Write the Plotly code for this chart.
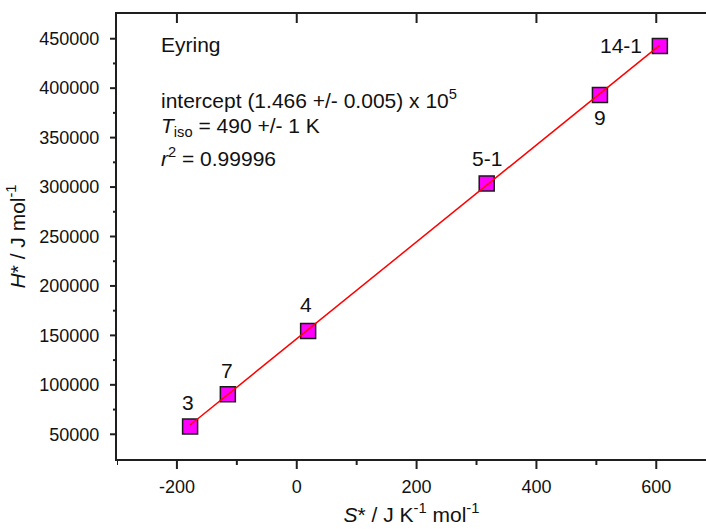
import plotly.graph_objects as go

# ---- data ----
compounds = ["3", "7", "4", "5-1", "9", "14-1"]
s_star = [-178, -115, 19, 317, 506, 606]            # J K^-1 mol^-1
h_star = [57800, 90500, 154400, 303700, 393200, 442700]  # J mol^-1
fit_intercept = 146600
fit_slope = 490
x_ticks = [-200, 0, 200, 400, 600]
x_minor = [-300, -100, 100, 300, 500]
y_ticks = [50000, 100000, 150000, 200000, 250000, 300000, 350000, 400000, 450000]
y_minor = [75000, 125000, 175000, 225000, 275000, 325000, 375000, 425000]

label_shift = {"3": (-2, 24, "center"), "7": (-1, 24, "center"), "4": (-2, 27, "center"),
               "5-1": (0, 25, "center"), "9": (0, -23, "center"), "14-1": (-16, 0, "right")}

FONT = "Arial, 'Liberation Sans', sans-serif"
AX = "#1f1f1f"
X_RANGE = [-300, 683]
Y_RANGE = [25000, 475000]
W_PLOT = 706 - 117
H_PLOT = 529 - 14 - 70

fig = go.Figure()
fig.add_trace(go.Scatter(
    x=s_star, y=h_star, mode="markers",
    marker=dict(symbol="square", size=15, color="#FF00FF",
                line=dict(color="#1a1a1a", width=1.5)),
    showlegend=False, hoverinfo="x+y"))

x0, x1 = min(s_star), max(s_star)
fig.add_trace(go.Scatter(
    x=[x0, x1], y=[fit_intercept + fit_slope * x0, fit_intercept + fit_slope * x1],
    mode="lines", line=dict(color="#FF0000", width=1.5), showlegend=False))

for name, xv, yv in zip(compounds, s_star, h_star):
    dx, dy, anc = label_shift[name]
    fig.add_annotation(x=xv, y=yv, xref="x", yref="y", text=name, showarrow=False,
                       xshift=dx, yshift=dy, xanchor=anc, yanchor="middle",
                       font=dict(family=FONT, size=21, color="#111"))

texts = [
    ("Eyring", 0.931),
    ("intercept (1.466 +/- 0.005) x 10<sup>5</sup>", 0.808),
    ("<i>T</i><sub>iso</sub> = 490 +/- 1 K", 0.746),
    ("<i>r</i><sup>2</sup> = 0.99996", 0.679),
]
for t, yp in texts:
    fig.add_annotation(x=0.072, y=yp, xref="paper", yref="paper", text=t, showarrow=False,
                       xanchor="left", yanchor="middle",
                       font=dict(family=FONT, size=21, color="#111"))

# tick marks drawn at the tick values (frame edges in paper units)
def tick(axis, val, length_px, inward=False, top=False):
    if axis == "x":
        base = 1.0 if top else 0.0
        d = length_px / H_PLOT
        end = base - d if top else (base + d if inward else base - d)
        fig.add_shape(type="line", xref="x", yref="paper", x0=val, x1=val, y0=base, y1=end,
                      layer="above", line=dict(color=AX, width=2))
    else:
        d = length_px / W_PLOT
        fig.add_shape(type="line", xref="paper", yref="y", x0=0.0, x1=-d, y0=val, y1=val,
                      layer="above", line=dict(color=AX, width=2))

for tv in x_ticks:
    tick("x", tv, 10)
    tick("x", tv, 9, top=True)
for tv in x_minor:
    tick("x", tv, 6)
for tv in y_ticks:
    tick("y", tv, 7)
for tv in y_minor:
    tick("y", tv, 4)

common = dict(showgrid=False, zeroline=False, automargin=False, ticks="")

fig.update_layout(
    template="none",
    width=706, height=529,
    margin=dict(l=117, r=0, t=14, b=70, pad=0, autoexpand=False),
    plot_bgcolor="white", paper_bgcolor="white",
    font=dict(family=FONT, size=18, color="#111"),
    xaxis=dict(range=X_RANGE, tickvals=x_ticks, ticktext=[str(v) for v in x_ticks],
               showline=True, linecolor=AX, linewidth=2, mirror=True,
               tickfont=dict(size=18), ticklabelstandoff=10,
               title=dict(text="<i>S</i>* / J K<sup>-1</sup> mol<sup>-1</sup>",
                          font=dict(size=21), standoff=12), **common),
    yaxis=dict(range=Y_RANGE, tickvals=y_ticks, ticktext=[str(v) for v in y_ticks],
               showline=True, linecolor=AX, linewidth=2,
               tickfont=dict(size=18), ticklabelstandoff=12,
               title=dict(text="<i>H</i>* / J mol<sup>-1</sup>", font=dict(size=21), standoff=8),
               **common),
)

fig.write_html("out.html")
